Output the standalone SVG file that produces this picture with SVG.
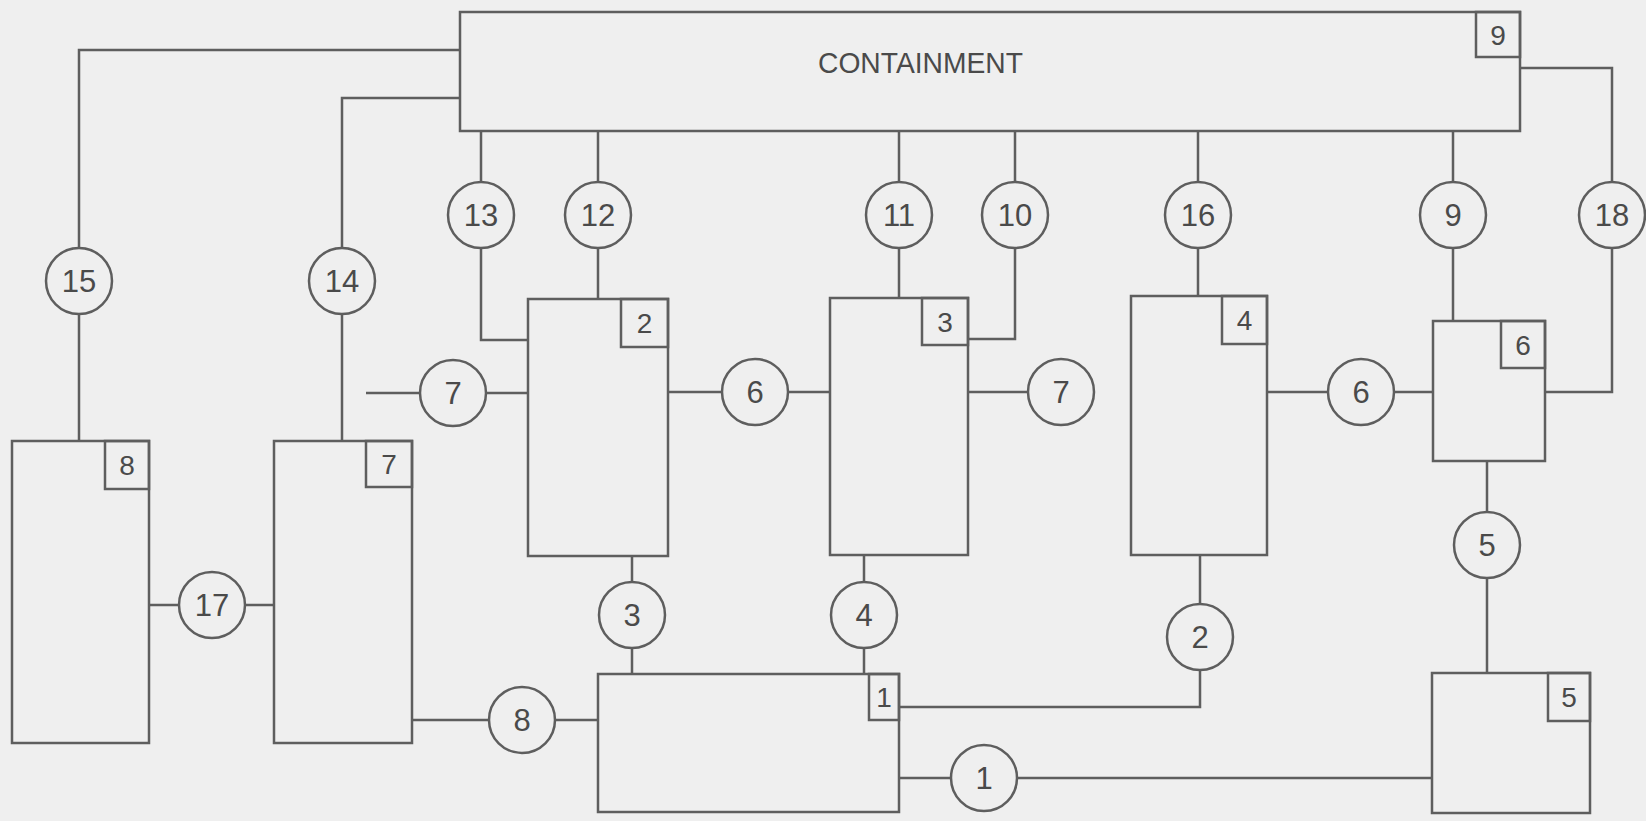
<svg xmlns="http://www.w3.org/2000/svg" width="1646" height="821" viewBox="0 0 1646 821">
<style>
.bg{fill:#efefef}
.box,.lbl,.circ{fill:none;stroke:#5e5e5e;stroke-width:2.5}
.conn path{fill:none;stroke:#5e5e5e;stroke-width:2.5}
text{font-family:"Liberation Sans Narrow","Liberation Sans",Arial,sans-serif;fill:#4a4a4a;text-anchor:middle}
.ct{font-size:31px}
.bt{font-size:28px}
.title{font-size:30px;text-anchor:start}
</style>
<rect class="bg" x="0" y="0" width="1646" height="821"/>
<g id="connectors" class="conn">
<path d="M460,50 H79 V248 M79,314 V441"/>
<path d="M460,98 H342 V248 M342,314 V441"/>
<path d="M481,131 V182 M481,248 V340 H528"/>
<path d="M598,131 V182 M598,248 V299"/>
<path d="M899,131 V182 M899,248 V298"/>
<path d="M1015,131 V182 M1015,248 V339 H968"/>
<path d="M1198,131 V182 M1198,248 V296"/>
<path d="M1453,131 V182 M1453,248 V321"/>
<path d="M1520,68 H1612 V182 M1612,248 V392 H1545"/>
<path d="M366,393 H420 M486,393 H528"/>
<path d="M668,392 H722 M788,392 H830"/>
<path d="M968,392 H1028"/>
<path d="M1267,392 H1328 M1394,392 H1433"/>
<path d="M149,605 H179 M245,605 H274"/>
<path d="M632,556 V582 M632,648 V674"/>
<path d="M864,555 V582 M864,648 V674"/>
<path d="M1200,555 V604 M1200,670 V707 H899"/>
<path d="M1487,461 V512 M1487,578 V673"/>
<path d="M412,720 H489 M555,720 H598"/>
<path d="M899,778 H951 M1017,778 H1432"/>
</g>
<g id="box9"><rect class="box" x="460" y="12" width="1060" height="119"/><rect class="lbl" x="1476" y="12" width="44" height="45"/><text class="bt" x="1498" y="45">9</text><text class="title" x="818" y="73" textLength="205" lengthAdjust="spacingAndGlyphs">CONTAINMENT</text></g>
<g id="box2"><rect class="box" x="528" y="299" width="140" height="257"/><rect class="lbl" x="621" y="299" width="47" height="48"/><text class="bt" x="644.5" y="333">2</text></g>
<g id="box3"><rect class="box" x="830" y="298" width="138" height="257"/><rect class="lbl" x="922" y="298" width="46" height="47"/><text class="bt" x="945" y="332">3</text></g>
<g id="box4"><rect class="box" x="1131" y="296" width="136" height="259"/><rect class="lbl" x="1222" y="296" width="45" height="48"/><text class="bt" x="1244.5" y="330">4</text></g>
<g id="box6"><rect class="box" x="1433" y="321" width="112" height="140"/><rect class="lbl" x="1501" y="321" width="44" height="47"/><text class="bt" x="1523" y="355">6</text></g>
<g id="box8"><rect class="box" x="12" y="441" width="137" height="302"/><rect class="lbl" x="105" y="441" width="44" height="48"/><text class="bt" x="127" y="475">8</text></g>
<g id="box7"><rect class="box" x="274" y="441" width="138" height="302"/><rect class="lbl" x="366" y="441" width="46" height="46"/><text class="bt" x="389" y="474">7</text></g>
<g id="box1"><rect class="box" x="598" y="674" width="301" height="138"/><rect class="lbl" x="869" y="674" width="30" height="46"/><text class="bt" x="884" y="707">1</text></g>
<g id="box5"><rect class="box" x="1432" y="673" width="158" height="140"/><rect class="lbl" x="1548" y="673" width="42" height="48"/><text class="bt" x="1569" y="707">5</text></g>
<g id="c15"><circle class="circ" cx="79" cy="281" r="33"/><text class="ct" x="79" y="292">15</text></g>
<g id="c14"><circle class="circ" cx="342" cy="281" r="33"/><text class="ct" x="342" y="292">14</text></g>
<g id="c13"><circle class="circ" cx="481" cy="215" r="33"/><text class="ct" x="481" y="226">13</text></g>
<g id="c12"><circle class="circ" cx="598" cy="215" r="33"/><text class="ct" x="598" y="226">12</text></g>
<g id="c11"><circle class="circ" cx="899" cy="215" r="33"/><text class="ct" x="899" y="226">11</text></g>
<g id="c10"><circle class="circ" cx="1015" cy="215" r="33"/><text class="ct" x="1015" y="226">10</text></g>
<g id="c16"><circle class="circ" cx="1198" cy="215" r="33"/><text class="ct" x="1198" y="226">16</text></g>
<g id="c9"><circle class="circ" cx="1453" cy="215" r="33"/><text class="ct" x="1453" y="226">9</text></g>
<g id="c18"><circle class="circ" cx="1612" cy="215" r="33"/><text class="ct" x="1612" y="226">18</text></g>
<g id="c7a"><circle class="circ" cx="453" cy="393" r="33"/><text class="ct" x="453" y="404">7</text></g>
<g id="c6a"><circle class="circ" cx="755" cy="392" r="33"/><text class="ct" x="755" y="403">6</text></g>
<g id="c7b"><circle class="circ" cx="1061" cy="392" r="33"/><text class="ct" x="1061" y="403">7</text></g>
<g id="c6b"><circle class="circ" cx="1361" cy="392" r="33"/><text class="ct" x="1361" y="403">6</text></g>
<g id="c17"><circle class="circ" cx="212" cy="605" r="33"/><text class="ct" x="212" y="616">17</text></g>
<g id="c3"><circle class="circ" cx="632" cy="615" r="33"/><text class="ct" x="632" y="626">3</text></g>
<g id="c4"><circle class="circ" cx="864" cy="615" r="33"/><text class="ct" x="864" y="626">4</text></g>
<g id="c2"><circle class="circ" cx="1200" cy="637" r="33"/><text class="ct" x="1200" y="648">2</text></g>
<g id="c5"><circle class="circ" cx="1487" cy="545" r="33"/><text class="ct" x="1487" y="556">5</text></g>
<g id="c8"><circle class="circ" cx="522" cy="720" r="33"/><text class="ct" x="522" y="731">8</text></g>
<g id="c1"><circle class="circ" cx="984" cy="778" r="33"/><text class="ct" x="984" y="789">1</text></g>
</svg>
